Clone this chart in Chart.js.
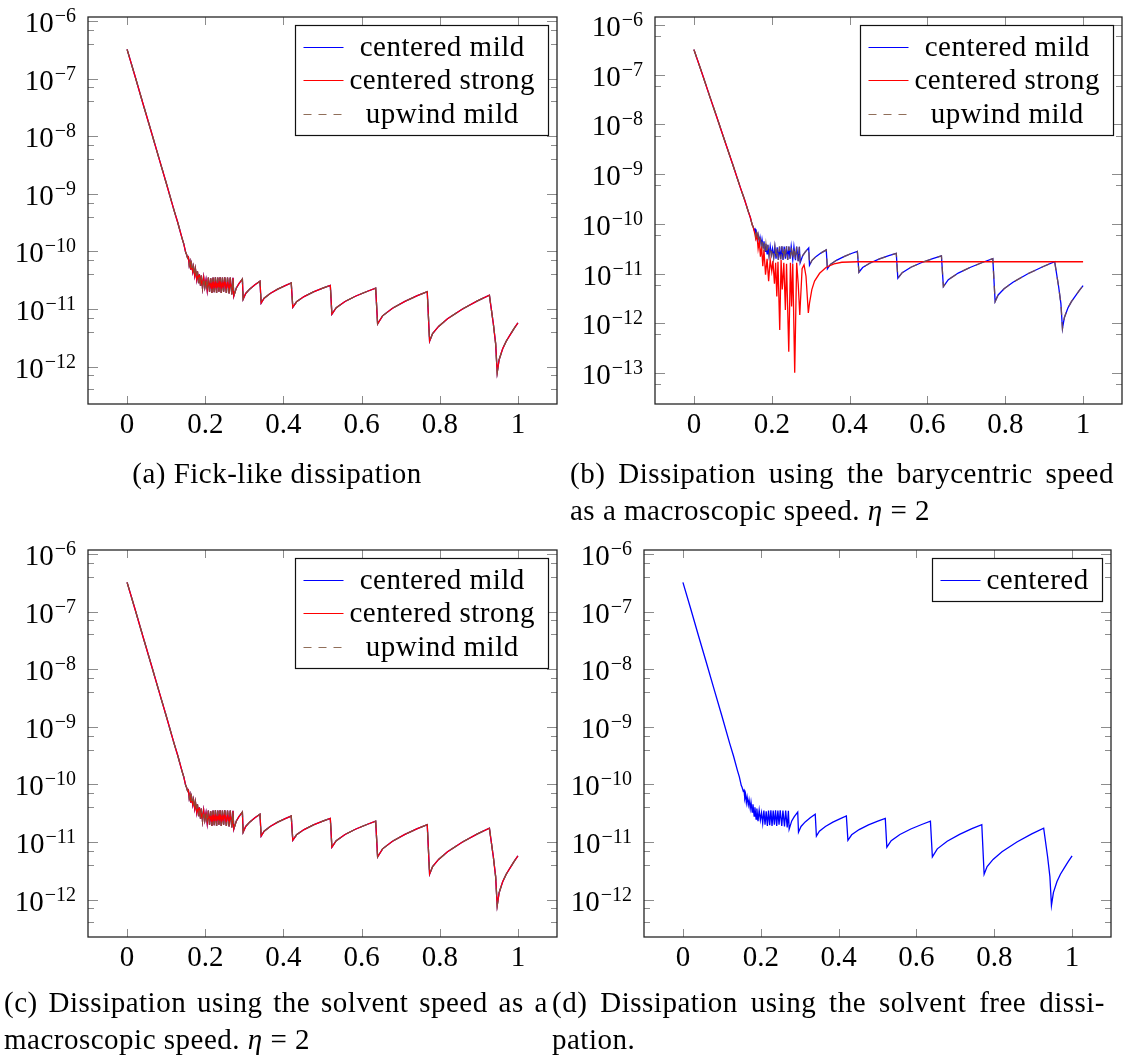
<!DOCTYPE html>
<html>
<head>
<meta charset="utf-8">
<script src="https://cdn.jsdelivr.net/npm/chart.js@4.4.1/dist/chart.umd.min.js"></script>
<style>
  html, body { margin: 0; padding: 0; background: #fff; }
  body { width: 1125px; height: 1061px; position: relative; overflow: hidden; font-family: "Liberation Serif", serif; }
  canvas { position: absolute; left: 0; top: 0; }
  .cap { position: absolute; font-size: 29px; line-height: 37px; letter-spacing: 0.5px; color: #000; white-space: nowrap; }
  .cap .j { text-align: justify; text-align-last: justify; white-space: normal; }
</style>
</head>
<body>
<canvas id="pa" width="1125" height="1061"></canvas>
<canvas id="pb" width="1125" height="1061"></canvas>
<canvas id="pc" width="1125" height="1061"></canvas>
<canvas id="pd" width="1125" height="1061"></canvas>

<div class="cap" style="left:0; top:455px; width:554px; text-align:center;">(a) Fick-like dissipation</div>
<div class="cap" style="left:570px; top:455px; width:544px;">
  <div class="j">(b) Dissipation using the barycentric speed</div>
  <div>as a macroscopic speed. <i>η</i> = 2</div>
</div>
<div class="cap" style="left:4px; top:984px; width:544px;">
  <div class="j">(c) Dissipation using the solvent speed as a</div>
  <div>macroscopic speed. <i>η</i> = 2</div>
</div>
<div class="cap" style="left:552px; top:984px; width:553px;">
  <div class="j">(d) Dissipation using the solvent free dissi-</div>
  <div>pation.</div>
</div>

<script>
// axe x
var xTicks = [0, 0.2, 0.4, 0.6, 0.8, 1];
var xTickLabels = ["0", "0.2", "0.4", "0.6", "0.8", "1"];

// puissances de 10 affichées sur l'axe y
var decadesA = [-12, -11, -10, -9, -8, -7, -6];
var decadesB = [-13, -12, -11, -10, -9, -8, -7, -6];

var seriesNames = ["centered mild", "centered strong", "upwind mild"];

// courbe commune (centered mild / upwind mild, et les trois courbes de (a) et (c))
var mildX = [0, 0.02, 0.04, 0.06, 0.08, 0.10, 0.12, 0.13, 0.14, 0.145, 0.15,
  0.152, 0.155, 0.157, 0.159, 0.161, 0.163, 0.165, 0.168, 0.170, 0.173,
  0.175, 0.178, 0.180, 0.183, 0.185, 0.188, 0.190, 0.193, 0.196, 0.199,
  0.202, 0.205, 0.208, 0.211, 0.214, 0.217, 0.220, 0.223, 0.226, 0.229,
  0.232, 0.235, 0.238, 0.241, 0.244, 0.247, 0.250, 0.254, 0.257, 0.261,
  0.264, 0.268, 0.271, 0.273,
  0.2796, 0.2862, 0.295, 0.297,
  0.3035, 0.3142, 0.3271, 0.340, 0.343,
  0.3507, 0.3661, 0.3854, 0.4046, 0.420, 0.424,
  0.4336, 0.4528, 0.4768, 0.5008, 0.520, 0.524,
  0.5352, 0.5576, 0.5856, 0.6136, 0.636, 0.641,
  0.6537, 0.6791, 0.7109, 0.7426, 0.768, 0.774,
  0.7817, 0.797, 0.8199, 0.8582, 0.8964, 0.927,
  0.937, 0.943, 0.947, 0.952, 0.961, 0.970, 0.980, 0.990, 1.0];
var mildY = [3.2e-7, 1.12e-7, 3.8e-8, 1.32e-8, 4.5e-9, 1.55e-9, 5.2e-10, 3.1e-10, 1.75e-10, 1.35e-10, 9.5e-11,
  8.9e-11, 7.6e-11, 7.9e-11, 5.75e-11, 6.6e-11, 4.8e-11, 6.0e-11, 4.4e-11, 5.4e-11, 3.8e-11,
  4.9e-11, 3.3e-11, 4.5e-11, 2.8e-11, 4.0e-11, 2.5e-11, 3.8e-11, 2.3e-11, 3.55e-11, 2.4e-11,
  3.2e-11, 2.1e-11, 3.5e-11, 2.0e-11, 3.4e-11, 1.9e-11, 3.5e-11, 1.95e-11, 3.55e-11, 1.9e-11,
  3.5e-11, 2.0e-11, 3.55e-11, 1.9e-11, 3.5e-11, 2.0e-11, 3.55e-11, 1.9e-11, 3.5e-11, 1.86e-11,
  3.5e-11, 1.78e-11, 3.47e-11, 1.66e-11,
  2.32e-11, 2.76e-11, 3.31e-11, 1.48e-11,
  1.86e-11, 2.23e-11, 2.63e-11, 3.02e-11, 1.26e-11,
  1.54e-11, 1.86e-11, 2.21e-11, 2.55e-11, 2.82e-11, 1.07e-11,
  1.33e-11, 1.64e-11, 1.98e-11, 2.30e-11, 2.57e-11, 8.1e-12,
  1.05e-11, 1.35e-11, 1.68e-11, 2.01e-11, 2.29e-11, 5.5e-12,
  7.6e-12, 1.03e-11, 1.35e-11, 1.70e-11, 2.0e-11, 2.75e-12,
  3.74e-12, 4.97e-12, 6.75e-12, 9.98e-12, 1.38e-11, 1.74e-11,
  5.6e-12, 2.5e-12, 7.9e-13, 1.32e-12, 2.04e-12, 2.75e-12, 3.55e-12, 4.57e-12, 5.75e-12];

// centered strong dans (b)
var strongBX = [0, 0.02, 0.04, 0.06, 0.08, 0.10, 0.12, 0.13, 0.14, 0.145, 0.15,
  0.152, 0.156, 0.159, 0.162, 0.165, 0.168, 0.171, 0.174, 0.177, 0.180,
  0.184, 0.188, 0.192, 0.196, 0.200, 0.203, 0.207, 0.210, 0.213, 0.216,
  0.2205, 0.224, 0.227, 0.231, 0.235, 0.238, 0.2437, 0.248, 0.251, 0.254,
  0.259, 0.264, 0.268, 0.272, 0.278, 0.283, 0.288, 0.294, 0.297, 0.303,
  0.310, 0.323, 0.340, 0.360, 0.380, 0.420, 1.0];
var strongBY = [3.2e-7, 1.12e-7, 3.8e-8, 1.32e-8, 4.5e-9, 1.55e-9, 5.2e-10, 3.1e-10, 1.75e-10, 1.35e-10, 9.5e-11,
  8.9e-11, 6.6e-11, 5.0e-11, 6.0e-11, 3.16e-11, 4.47e-11, 2.19e-11, 3.55e-11, 1.41e-11, 3.02e-11,
  9.5e-12, 2.0e-11, 7.1e-12, 1.9e-11, 1.12e-11, 1.82e-11, 6.3e-12, 1.66e-11, 3.47e-12, 1.74e-11,
  7.4e-13, 1.9e-11, 4.8e-12, 1.66e-11, 1.86e-12, 1.58e-11, 2.7e-13, 1.66e-11, 2.19e-12, 1.58e-11,
  1.02e-13, 1.66e-11, 6.3e-12, 1.48e-12, 1.26e-11, 1.51e-11, 8.9e-12, 1.62e-12, 2.57e-12, 4.8e-12,
  7.1e-12, 1.02e-11, 1.35e-11, 1.58e-11, 1.70e-11, 1.74e-11, 1.74e-11];

var FONT = '29px "Liberation Serif", serif';
var FONT_EXP = '20px "Liberation Serif", serif';

function points(xs, ys) {
  return xs.map(function(x, i) { return { x: x, y: ys[i] }; });
}

function serie(label, xs, ys, color, dash, order) {
  return {
    label: label,
    data: points(xs, ys),
    borderColor: color,
    borderWidth: 1.3,
    borderDash: dash,
    pointRadius: 0,
    tension: 0,
    fill: false,
    order: order
  };
}

// graduations log : décades + mineures 2..9
function logTicks(decades, yMin, yMax) {
  var t = [];
  for (var e = decades[0] - 1; e <= decades[decades.length - 1]; e++) {
    for (var m = 1; m <= 9; m++) {
      var v = m * Math.pow(10, e);
      if (v >= yMin && v <= yMax) t.push({ value: v, major: m === 1 });
    }
  }
  return t;
}

// axes façon pgfplots : cadre, graduations intérieures, étiquettes 10^n, légende
function pgfAxes(decades) {
  return {
    id: "pgfAxes",
    afterDraw: function(chart) {
      var ctx = chart.ctx, a = chart.chartArea, x = chart.scales.x, y = chart.scales.y;
      ctx.save();

      ctx.strokeStyle = "#8c8c8c";
      ctx.lineWidth = 1;
      ctx.beginPath();
      x.ticks.forEach(function(t) {
        var px = Math.round(x.getPixelForValue(t.value)) + 0.5;
        ctx.moveTo(px, a.bottom); ctx.lineTo(px, a.bottom - 8);
        ctx.moveTo(px, a.top); ctx.lineTo(px, a.top + 8);
      });
      y.ticks.forEach(function(t) {
        var py = Math.round(y.getPixelForValue(t.value)) + 0.5;
        var len = t.major ? 10 : 6;
        ctx.moveTo(a.left, py); ctx.lineTo(a.left + len, py);
        ctx.moveTo(a.right, py); ctx.lineTo(a.right - len, py);
      });
      ctx.stroke();

      ctx.strokeStyle = "#262626";
      ctx.lineWidth = 1.3;
      ctx.strokeRect(a.left, a.top, a.right - a.left, a.bottom - a.top);

      // étiquettes x
      ctx.fillStyle = "#000";
      ctx.font = FONT;
      ctx.textAlign = "center";
      ctx.textBaseline = "alphabetic";
      x.ticks.forEach(function(t, i) {
        ctx.fillText(xTickLabels[i], x.getPixelForValue(t.value), a.bottom + 29);
      });

      // étiquettes y : 10 puis exposant
      ctx.textAlign = "left";
      var right = a.left - 12;
      decades.forEach(function(e) {
        var py = y.getPixelForValue(Math.pow(10, e));
        var exp = "\u2212" + Math.abs(e);
        ctx.font = FONT_EXP;
        var ew = ctx.measureText(exp).width;
        ctx.fillText(exp, right - ew, py + 1);
        ctx.font = FONT;
        var bw = ctx.measureText("10").width;
        ctx.fillText("10", right - ew - bw - 1, py + 11);
      });

      // légende
      var ds = chart.data.datasets;
      ctx.font = FONT;
      ctx.letterSpacing = "0.5px";
      var w = 0;
      ds.forEach(function(d) { w = Math.max(w, ctx.measureText(d.label).width); });
      var rowH = 33.3;
      var bw2 = Math.round(8 + 40 + 6 + w + 14), bh = Math.round(ds.length * rowH + 10);
      var bx = Math.round(a.right - 0.02 * (a.right - a.left) - bw2) + 0.5;
      var by = Math.round(a.top + 0.02 * (a.bottom - a.top)) + 0.5;
      ctx.fillStyle = "#fff";
      ctx.fillRect(bx, by, bw2, bh);
      ctx.strokeStyle = "#111";
      ctx.lineWidth = 1.2;
      ctx.strokeRect(bx, by, bw2, bh);
      ds.forEach(function(d, i) {
        var ry = Math.round(by + 5 + rowH / 2 + i * rowH) + 0.5;
        ctx.strokeStyle = d.borderColor;
        ctx.lineWidth = 1.2;
        ctx.setLineDash(d.borderDash || []);
        ctx.beginPath();
        ctx.moveTo(bx + 8, ry); ctx.lineTo(bx + 48, ry);
        ctx.stroke();
        ctx.setLineDash([]);
        ctx.fillStyle = "#000";
        ctx.textAlign = "center";
        ctx.fillText(d.label, bx + 54 + w / 2, ry + 8.5);
      });
      ctx.restore();
    }
  };
}

var BLUE = "#0000ff", RED = "#ff0000", BROWN = "rgba(125,85,60,0.85)";
var DASH = [8, 7];

function panel(id, area, yMin, yMax, decades, datasets) {
  return new Chart(document.getElementById(id), {
    type: "line",
    data: { datasets: datasets },
    options: {
      responsive: false,
      animation: false,
      layout: { padding: { left: area[0], top: area[1], right: 1125 - area[2], bottom: 1061 - area[3] } },
      plugins: { legend: { display: false }, tooltip: { enabled: false } },
      scales: {
        x: {
          type: "linear", min: -0.1, max: 1.1, display: false,
          afterBuildTicks: function(s) { s.ticks = xTicks.map(function(v) { return { value: v }; }); }
        },
        y: {
          type: "logarithmic", min: yMin, max: yMax, display: false,
          afterBuildTicks: function(s) { s.ticks = logTicks(decades, yMin, yMax); }
        }
      }
    },
    plugins: [pgfAxes(decades)]
  });
}

// (a) Fick-like
panel("pa", [88, 17, 557, 404], 2.24e-13, 1.17e-6, decadesA, [
  serie(seriesNames[0], mildX, mildY, BLUE, [], 3),
  serie(seriesNames[1], mildX, mildY, RED, [], 2),
  serie(seriesNames[2], mildX, mildY, BROWN, DASH, 1)
]);

// (b) vitesse barycentrique
panel("pb", [655, 17, 1122, 404], 2.4e-14, 1.45e-6, decadesB, [
  serie(seriesNames[0], mildX, mildY, BLUE, [], 3),
  serie(seriesNames[1], strongBX, strongBY, RED, [], 2),
  serie(seriesNames[2], mildX, mildY, BROWN, DASH, 1)
]);

// (c) vitesse du solvant
panel("pc", [88, 550, 557, 937], 2.24e-13, 1.17e-6, decadesA, [
  serie(seriesNames[0], mildX, mildY, BLUE, [], 3),
  serie(seriesNames[1], mildX, mildY, RED, [], 2),
  serie(seriesNames[2], mildX, mildY, BROWN, DASH, 1)
]);

// (d) sans solvant
panel("pd", [644, 550, 1111, 937], 2.24e-13, 1.17e-6, decadesA, [
  serie("centered", mildX, mildY, BLUE, [], 1)
]);
</script>
</body>
</html>
